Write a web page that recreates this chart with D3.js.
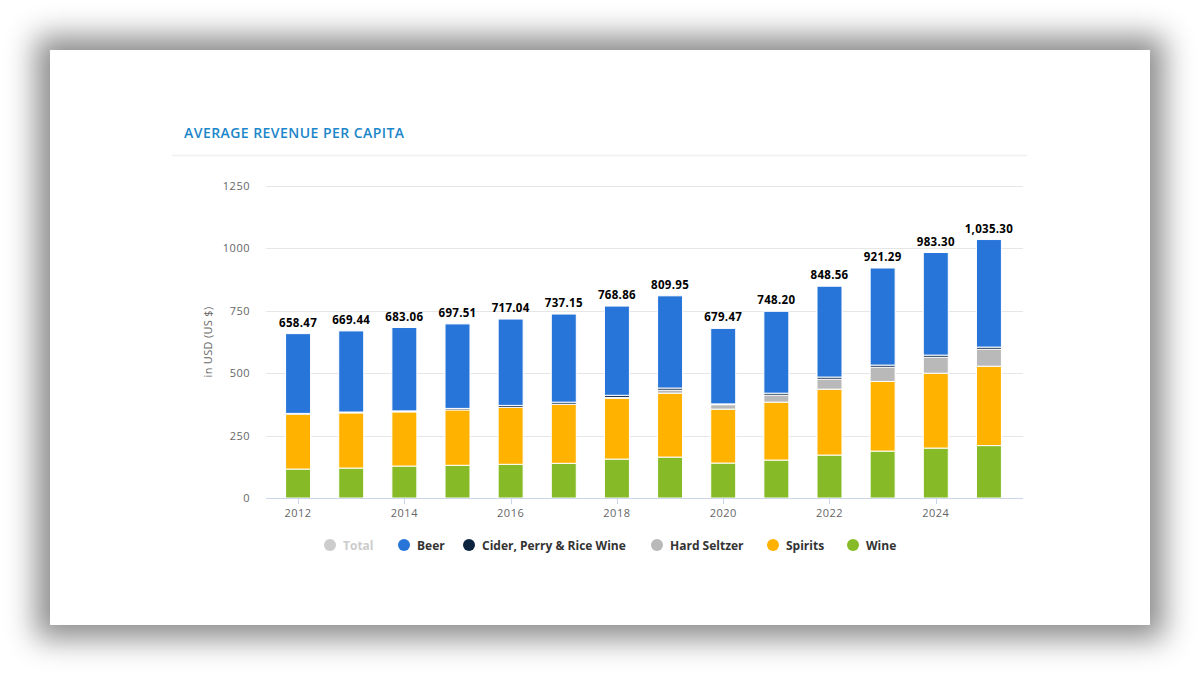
<!DOCTYPE html>
<html>
<head>
<meta charset="utf-8">
<script src="https://cdn.jsdelivr.net/npm/d3@7"></script>
<style>
  body { margin: 0; background: #fff; font-family: "Open Sans", sans-serif; }
  #wrap { position: relative; width: 1200px; height: 675px; overflow: hidden; background: #fff; }
  #card { position: absolute; left: 50px; top: 50px; width: 1100px; height: 575px; background: #fff;
          box-shadow: 0 0 28px 14px rgba(0,0,0,0.45); }
  svg { position: absolute; left: 0; top: 0; }
</style>
</head>
<body>
<div id="wrap">
  <div id="card"></div>
  <svg id="chart" width="1200" height="675"></svg>
</div>
<script>
// values (USD per capita)
const years = [2012, 2013, 2014, 2015, 2016, 2017, 2018, 2019, 2020, 2021, 2022, 2023, 2024, 2025];
const wine = [116, 120, 128, 131, 135, 139, 156, 164, 140, 152, 172, 188, 200, 210];
const spirits = [220, 221, 217, 222, 228, 236, 244, 256, 216, 232, 264, 279, 300, 318];
const hardSeltzer = [0, 0, 0, 0, 0.5, 1, 3, 12, 18, 28, 40, 57, 64, 68];
const cider = [3, 3.5, 4, 6, 7.5, 8, 8.5, 8.5, 3, 8, 8.5, 8.5, 8.5, 8.5];
const beer = [319.5, 325, 334, 338.5, 346, 353, 357.5, 369.5, 302.5, 328, 364, 389, 411, 431];
const totals = [658.47, 669.44, 683.06, 697.51, 717.04, 737.15, 768.86, 809.95, 679.47, 748.20, 848.56, 921.29, 983.30, 1035.30];
const yTicks = [0, 250, 500, 750, 1000, 1250];

// stacking order bottom -> top
const series = [
  {key: "wine", name: "Wine", color: "#86bb27", values: wine},
  {key: "spirits", name: "Spirits", color: "#ffb300", values: spirits},
  {key: "seltzer", name: "Hard Seltzer", color: "#b9b9b9", values: hardSeltzer},
  {key: "cider", name: "Cider, Perry & Rice Wine", color: "#0d2441", values: cider},
  {key: "beer", name: "Beer", color: "#2775d9", values: beer}
];

const legendItems = [
  {name: "Total", color: "#cccccc", text: "#cccccc"},
  {name: "Beer", color: "#2775d9", text: "#333"},
  {name: "Cider, Perry & Rice Wine", color: "#0d2441", text: "#333"},
  {name: "Hard Seltzer", color: "#b9b9b9", text: "#333"},
  {name: "Spirits", color: "#ffb300", text: "#333"},
  {name: "Wine", color: "#86bb27", text: "#333"}
];

const rows = years.map((yr, i) => {
  const r = {year: yr};
  series.forEach(s => r[s.key] = s.values[i]);
  return r;
});

const stack = d3.stack().keys(series.map(s => s.key))(rows);

const svg = d3.select("#chart");

const plotLeft = 266, plotRight = 1023;

let x = d3.scaleBand()
  .domain(years)
  .range([271.5, 1015.5])
  .paddingInner(0.53)
  .paddingOuter(0.265);

let y = d3.scaleLinear()
  .domain([0, 1250])
  .range([498, 186]);

// title + separator
svg.append("text")
  .attr("x", 184)
  .attr("y", 138)
  .style("font-size", "14px")
  .style("font-weight", "600")
  .style("fill", "#1b86c9")
  .style("letter-spacing", "0.45px")
  .text("AVERAGE REVENUE PER CAPITA");

svg.append("line")
  .attr("x1", 172).attr("x2", 1027)
  .attr("y1", 155.5).attr("y2", 155.5)
  .attr("stroke", "#f0f0f0")
  .attr("stroke-width", 1.5);

// gridlines
svg.append("g")
  .selectAll("line")
  .data(yTicks.filter(d => d > 0))
  .enter().append("line")
  .attr("x1", plotLeft).attr("x2", plotRight)
  .attr("y1", d => Math.round(y(d)) + 0.5)
  .attr("y2", d => Math.round(y(d)) + 0.5)
  .attr("stroke", "#e6e6e6");

// y axis labels
svg.append("g")
  .selectAll("text")
  .data(yTicks)
  .enter().append("text")
  .attr("x", 250)
  .attr("y", d => y(d) + 4)
  .style("text-anchor", "end")
  .style("font-size", "11px")
  .style("fill", "#666")
  .style("letter-spacing", "0.5px")
  .text(d => d);

svg.append("text")
  .attr("transform", "translate(212,342) rotate(-90)")
  .style("text-anchor", "middle")
  .style("font-size", "11px")
  .style("fill", "#666")
  .style("letter-spacing", "0.3px")
  .text("in USD (US $)");

// stacked bars
svg.append("g")
  .selectAll("g")
  .data(stack)
  .enter().append("g")
  .attr("fill", (d, i) => series[i].color)
  .selectAll("rect")
  .data(d => d)
  .enter().append("rect")
  .attr("x", d => x(d.data.year))
  .attr("y", d => y(d[1]))
  .attr("width", x.bandwidth())
  .attr("height", d => Math.max(0, y(d[0]) - y(d[1])))
  .attr("stroke", "#fff")
  .attr("stroke-width", 1);

// x axis line and ticks
svg.append("line")
  .attr("x1", plotLeft).attr("x2", plotRight)
  .attr("y1", 498.5).attr("y2", 498.5)
  .attr("stroke", "#ccd6eb");

const labelYears = years.filter(d => d % 2 === 0);

svg.append("g")
  .selectAll("line")
  .data(labelYears)
  .enter().append("line")
  .attr("x1", d => Math.round(x(d) + x.bandwidth() / 2) + 0.5)
  .attr("x2", d => Math.round(x(d) + x.bandwidth() / 2) + 0.5)
  .attr("y1", 499).attr("y2", 504)
  .attr("stroke", "#ccd6eb");

svg.append("g")
  .selectAll("text")
  .data(labelYears)
  .enter().append("text")
  .attr("x", d => x(d) + x.bandwidth() / 2)
  .attr("y", 517)
  .style("text-anchor", "middle")
  .style("font-size", "11px")
  .style("fill", "#666")
  .style("letter-spacing", "0.5px")
  .text(d => d);

// total labels
const fmt = d3.format(",.2f");
svg.append("g")
  .selectAll("text")
  .data(years)
  .enter().append("text")
  .attr("x", d => x(d) + x.bandwidth() / 2)
  .attr("y", (d, i) => y(totals[i]) - 7)
  .style("text-anchor", "middle")
  .style("font-size", "11.5px")
  .style("font-weight", "bold")
  .style("fill", "#000")
  .style("letter-spacing", "0.3px")
  .text((d, i) => fmt(totals[i]));

// legend
const legendX = [330, 404, 469, 657, 773, 853];
const legend = svg.append("g")
  .selectAll("g")
  .data(legendItems)
  .enter().append("g")
  .attr("transform", (d, i) => `translate(${legendX[i]},545)`);

legend.append("circle")
  .attr("r", 6)
  .attr("fill", d => d.color);

legend.append("text")
  .attr("x", 13)
  .attr("y", 4.5)
  .style("font-size", "12px")
  .style("font-weight", "bold")
  .style("fill", d => d.text)
  .text(d => d.name);
</script>
</body>
</html>
